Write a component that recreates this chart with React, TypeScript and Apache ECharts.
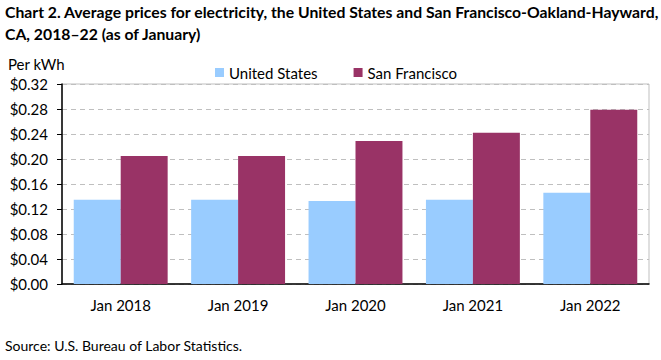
import React, { useEffect, useRef } from "react";
import * as echarts from "echarts";

const categories = ["Jan 2018", "Jan 2019", "Jan 2020", "Jan 2021", "Jan 2022"];
const usValues = [0.135, 0.135, 0.133, 0.135, 0.146];
const sfValues = [0.205, 0.205, 0.229, 0.242, 0.279];
const seriesNames = ["United States", "San Francisco"];
const titleLines = [
  "Chart 2. Average prices for electricity, the United States and San Francisco-Oakland-Hayward,",
  "CA, 2018\u201322 (as of January)",
];
const unitLabel = "Per kWh";
const sourceText = "Source: U.S. Bureau of Labor Statistics.";

const FONT = "Lato, 'Open Sans', sans-serif";

export default function App() {
  const ref = useRef<HTMLDivElement>(null);
  useEffect(() => {
    if (!ref.current) return;
    const chart = echarts.init(ref.current, null, { renderer: "svg" });
    chart.setOption({
      animation: false,
      textStyle: { fontFamily: FONT },
      graphic: [
        {
          type: "text",
          left: 5,
          top: 0,
          style: {
            text: titleLines.join("\n"),
            fontFamily: FONT,
            fontSize: 15.75,
            fontWeight: "bold",
            lineHeight: 22,
            fill: "#000",
          },
        },
        {
          type: "text",
          left: 8,
          top: 56,
          style: { text: unitLabel, fontFamily: FONT, fontSize: 15, fill: "#000" },
        },
        {
          type: "text",
          left: 5,
          top: 338,
          style: { text: sourceText, fontFamily: FONT, fontSize: 14, fill: "#000" },
        },
      ],
      legend: {
        top: 60,
        left: 210,
        itemWidth: 9,
        itemHeight: 9,
        itemGap: 36,
        icon: "rect",
        textStyle: { fontFamily: FONT, fontSize: 15, color: "#000", padding: [0, 0, 0, 0] },
        data: seriesNames,
      },
      grid: {
        left: 62,
        right: 12,
        top: 84,
        bottom: 76,
        show: true,
        borderColor: "#BFBFBF",
        borderWidth: 1,
      },
      xAxis: {
        type: "category",
        data: categories,
        axisLine: { show: true, lineStyle: { color: "#000", width: 1.5 } },
        axisTick: { show: false },
        axisLabel: { color: "#000", fontSize: 15, margin: 13, fontFamily: FONT },
      },
      yAxis: {
        type: "value",
        min: 0,
        max: 0.32,
        interval: 0.04,
        axisLine: { show: true, lineStyle: { color: "#000", width: 1.5 } },
        axisTick: { show: true, length: 5, lineStyle: { color: "#000" } },
        axisLabel: {
          color: "#000",
          fontSize: 15,
          margin: 14,
          fontFamily: FONT,
          formatter: (v: number) => "$" + v.toFixed(2),
        },
        splitLine: { show: true, lineStyle: { color: "#BFBFBF", type: [5, 4] } },
      },
      series: [
        {
          name: seriesNames[0],
          type: "bar",
          data: usValues,
          itemStyle: { color: "#99CCFF" },
          barGap: "0%",
          barCategoryGap: "20%",
        },
        {
          name: seriesNames[1],
          type: "bar",
          data: sfValues,
          itemStyle: { color: "#993366" },
          barGap: "0%",
          barCategoryGap: "20%",
        },
      ],
    });
    return () => chart.dispose();
  }, []);
  return <div ref={ref} style={{ width: 661, height: 360, position: "absolute", left: 0, top: 0 }} />;
}
